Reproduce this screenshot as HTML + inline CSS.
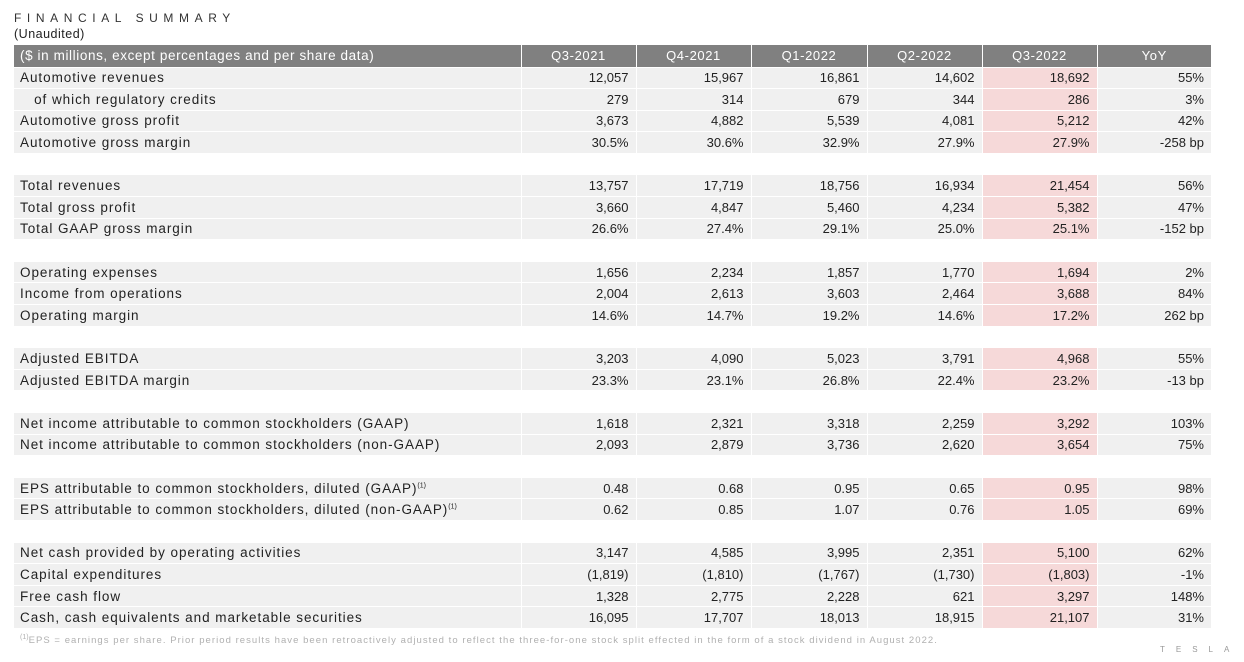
<!DOCTYPE html>
<html><head><meta charset="utf-8"><style>
body{margin:0;width:1244px;height:662px;background:#fff;font-family:"Liberation Sans",sans-serif;position:relative;overflow:hidden;color:#222}
.t1{position:absolute;left:14px;top:11px;font-size:12px;letter-spacing:5.6px;color:#333}
.t2{position:absolute;left:14px;top:27px;font-size:12.5px;letter-spacing:0.5px;color:#222}
table{position:absolute;left:14px;top:45px;border-collapse:collapse;table-layout:fixed;font-size:13px}
td{height:21.6px;padding:0 7px;border-bottom:1px solid #fff;border-left:1px solid #fff;background:#f0f0f0;text-align:right;box-sizing:border-box;white-space:nowrap}
td:first-child{text-align:left;border-left:none;padding-left:6px;font-size:13.5px;letter-spacing:0.95px}
tr.h td{background:#808080;color:#fff;text-align:center;height:22px;letter-spacing:0.6px}
tr.h td:first-child{text-align:left}
tr.b td{background:#fff}
td.p{background:#f6d9d9}
tr.b td.p{background:#fff}
sup{font-size:7px;letter-spacing:0}
.fn{position:absolute;left:20px;top:634px;font-size:9.5px;letter-spacing:1.05px;color:#b0b0b0;white-space:nowrap}
.tesla{position:absolute;left:1160px;top:645px;font-size:8px;letter-spacing:11px;color:#999}
</style></head><body>
<div class="t1">FINANCIAL SUMMARY</div>
<div class="t2">(Unaudited)</div>
<table>
<colgroup><col style="width:507px"><col style="width:115px"><col style="width:115px"><col style="width:116px"><col style="width:115px"><col style="width:115px"><col style="width:114px"></colgroup>
<tr class="h"><td>($ in millions, except percentages and per share data)</td><td>Q3-2021</td><td>Q4-2021</td><td>Q1-2022</td><td>Q2-2022</td><td>Q3-2022</td><td>YoY</td></tr>
<tr><td>Automotive revenues</td><td>12,057</td><td>15,967</td><td>16,861</td><td>14,602</td><td class="p">18,692</td><td>55%</td></tr>
<tr><td>&nbsp;&nbsp;&nbsp;of which regulatory credits</td><td>279</td><td>314</td><td>679</td><td>344</td><td class="p">286</td><td>3%</td></tr>
<tr><td>Automotive gross profit</td><td>3,673</td><td>4,882</td><td>5,539</td><td>4,081</td><td class="p">5,212</td><td>42%</td></tr>
<tr><td>Automotive gross margin</td><td>30.5%</td><td>30.6%</td><td>32.9%</td><td>27.9%</td><td class="p">27.9%</td><td>-258 bp</td></tr>
<tr class="b"><td></td><td></td><td></td><td></td><td></td><td class="p"></td><td></td></tr>
<tr><td>Total revenues</td><td>13,757</td><td>17,719</td><td>18,756</td><td>16,934</td><td class="p">21,454</td><td>56%</td></tr>
<tr><td>Total gross profit</td><td>3,660</td><td>4,847</td><td>5,460</td><td>4,234</td><td class="p">5,382</td><td>47%</td></tr>
<tr><td>Total GAAP gross margin</td><td>26.6%</td><td>27.4%</td><td>29.1%</td><td>25.0%</td><td class="p">25.1%</td><td>-152 bp</td></tr>
<tr class="b"><td></td><td></td><td></td><td></td><td></td><td class="p"></td><td></td></tr>
<tr><td>Operating expenses</td><td>1,656</td><td>2,234</td><td>1,857</td><td>1,770</td><td class="p">1,694</td><td>2%</td></tr>
<tr><td>Income from operations</td><td>2,004</td><td>2,613</td><td>3,603</td><td>2,464</td><td class="p">3,688</td><td>84%</td></tr>
<tr><td>Operating margin</td><td>14.6%</td><td>14.7%</td><td>19.2%</td><td>14.6%</td><td class="p">17.2%</td><td>262 bp</td></tr>
<tr class="b"><td></td><td></td><td></td><td></td><td></td><td class="p"></td><td></td></tr>
<tr><td>Adjusted EBITDA</td><td>3,203</td><td>4,090</td><td>5,023</td><td>3,791</td><td class="p">4,968</td><td>55%</td></tr>
<tr><td>Adjusted EBITDA margin</td><td>23.3%</td><td>23.1%</td><td>26.8%</td><td>22.4%</td><td class="p">23.2%</td><td>-13 bp</td></tr>
<tr class="b"><td></td><td></td><td></td><td></td><td></td><td class="p"></td><td></td></tr>
<tr><td>Net income attributable to common stockholders (GAAP)</td><td>1,618</td><td>2,321</td><td>3,318</td><td>2,259</td><td class="p">3,292</td><td>103%</td></tr>
<tr><td>Net income attributable to common stockholders (non-GAAP)</td><td>2,093</td><td>2,879</td><td>3,736</td><td>2,620</td><td class="p">3,654</td><td>75%</td></tr>
<tr class="b"><td></td><td></td><td></td><td></td><td></td><td class="p"></td><td></td></tr>
<tr><td>EPS attributable to common stockholders, diluted (GAAP)<sup>(1)</sup></td><td>0.48</td><td>0.68</td><td>0.95</td><td>0.65</td><td class="p">0.95</td><td>98%</td></tr>
<tr><td>EPS attributable to common stockholders, diluted (non-GAAP)<sup>(1)</sup></td><td>0.62</td><td>0.85</td><td>1.07</td><td>0.76</td><td class="p">1.05</td><td>69%</td></tr>
<tr class="b"><td></td><td></td><td></td><td></td><td></td><td class="p"></td><td></td></tr>
<tr><td>Net cash provided by operating activities</td><td>3,147</td><td>4,585</td><td>3,995</td><td>2,351</td><td class="p">5,100</td><td>62%</td></tr>
<tr><td>Capital expenditures</td><td>(1,819)</td><td>(1,810)</td><td>(1,767)</td><td>(1,730)</td><td class="p">(1,803)</td><td>-1%</td></tr>
<tr><td>Free cash flow</td><td>1,328</td><td>2,775</td><td>2,228</td><td>621</td><td class="p">3,297</td><td>148%</td></tr>
<tr><td>Cash, cash equivalents and marketable securities</td><td>16,095</td><td>17,707</td><td>18,013</td><td>18,915</td><td class="p">21,107</td><td>31%</td></tr>
</table>
<div class="fn"><sup>(1)</sup>EPS = earnings per share. Prior period results have been retroactively adjusted to reflect the three-for-one stock split effected in the form of a stock dividend in August 2022.</div>
<div class="tesla">TESLA</div>
</body></html>
